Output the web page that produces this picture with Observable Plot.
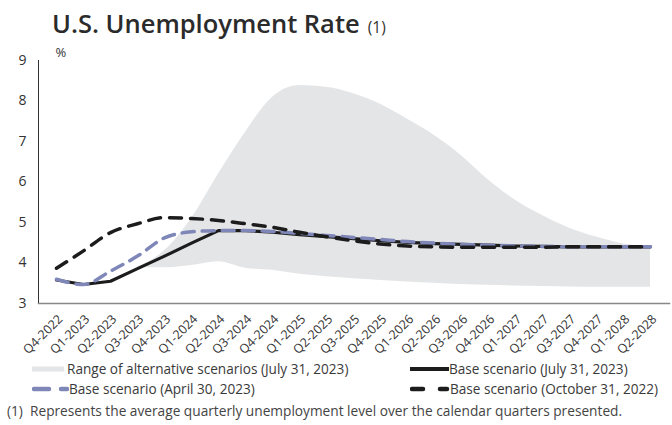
<!DOCTYPE html>
<html><head><meta charset="utf-8">
<script src="https://cdn.jsdelivr.net/npm/d3@7"></script>
<script src="https://cdn.jsdelivr.net/npm/@observablehq/plot@0.6"></script>
<style>
body{margin:0;background:#fff;font-family:"Open Sans",sans-serif;color:#333;}
#wrap{position:relative;width:672px;height:425px;overflow:hidden;background:#fff}
#title{position:absolute;left:52px;top:7px;font-size:25.5px;font-weight:600;color:#2b2b2b;white-space:nowrap;line-height:32px}
#title span{font-size:15.5px;font-weight:400;color:#333;margin-left:8px}
#chart{position:absolute;left:0;top:40px;}
.leg{position:absolute;font-size:13.6px;line-height:16px;white-space:nowrap;color:#3a3a3a;display:flex;align-items:center}
.leg svg{display:block}
#foot{position:absolute;left:7px;top:403px;font-size:13.7px;line-height:16px;color:#444;white-space:pre}
</style></head>
<body><div id="wrap">
<div id="title">U.S. Unemployment Rate<span>(1)</span></div>
<div id="chart"></div>
<div class="leg" style="left:32px;top:361px"><svg width="32" height="10"><rect x="0" y="2.5" width="32" height="5" fill="#e4e5e7"/></svg><span style="margin-left:3px">Range of alternative scenarios (July 31, 2023)</span></div>
<div class="leg" style="left:32px;top:381px"><svg width="37" height="10"><line x1="2" y1="5" x2="17" y2="5" stroke="#7f86b8" stroke-width="4.5" stroke-linecap="round"/><line x1="29" y1="5" x2="35" y2="5" stroke="#7f86b8" stroke-width="4.5" stroke-linecap="round"/></svg><span>Base scenario (April 30, 2023)</span></div>
<div class="leg" style="left:410px;top:361px"><svg width="39" height="10"><line x1="0" y1="5" x2="39" y2="5" stroke="#1c1c1c" stroke-width="4"/></svg><span>Base scenario (July 31, 2023)</span></div>
<div class="leg" style="left:410px;top:381px"><svg width="40" height="10"><line x1="2" y1="5" x2="13" y2="5" stroke="#1c1c1c" stroke-width="4.5" stroke-linecap="round"/><line x1="30" y1="5" x2="37" y2="5" stroke="#1c1c1c" stroke-width="4.5" stroke-linecap="round"/></svg><span>Base scenario (October 31, 2022)</span></div>
<div id="foot">(1)  Represents the average quarterly unemployment level over the calendar quarters presented.</div>
</div>
<script>
const quarters = ["Q4-2022","Q1-2023","Q2-2023","Q3-2023","Q4-2023","Q1-2024","Q2-2024","Q3-2024","Q4-2024","Q1-2025","Q2-2025","Q3-2025","Q4-2025","Q1-2026","Q2-2026","Q3-2026","Q4-2026","Q1-2027","Q2-2027","Q3-2027","Q4-2027","Q1-2028","Q2-2028"];
const baseJul2023 = [3.58,3.47,3.55,3.86,4.17,4.49,4.80,4.80,4.76,4.70,4.65,4.60,4.55,4.51,4.48,4.46,4.44,4.42,4.41,4.40,4.40,4.40,4.40];
const baseApr2023 = [3.60,3.47,3.80,4.17,4.62,4.77,4.80,4.80,4.78,4.73,4.68,4.63,4.58,4.53,4.49,4.46,4.44,4.42,4.41,4.40,4.40,4.40,4.40];
const baseOct2022 = [3.87,4.30,4.75,4.97,5.12,5.10,5.05,4.97,4.88,4.76,4.65,4.55,4.47,4.42,4.40,4.39,4.39,4.39,4.39,4.40,4.40,4.40,4.40];
const rangeLow  = [null,null,null,3.88,3.88,3.94,4.03,3.87,3.82,3.72,3.66,3.61,3.57,3.53,3.50,3.47,3.45,3.43,3.42,3.41,3.40,3.40,3.40];
const rangeHigh = [null,null,null,3.90,4.30,5.10,6.20,7.23,8.09,8.38,8.34,8.18,7.92,7.55,7.15,6.65,6.05,5.55,5.17,4.86,4.64,4.47,4.40];
const yTicks = [3,4,5,6,7,8,9];

const data = quarters.map((q,i)=>({q, lo:rangeLow[i], hi:rangeHigh[i], jul:baseJul2023[i], apr:baseApr2023[i], oct:baseOct2022[i]}));

const chart = Plot.plot({
  width: 672, height: 322,
  marginTop: 20, marginLeft: 38, marginRight: 3, marginBottom: 59,
  style: {fontFamily: "'Open Sans', sans-serif", color: "#333", background: "transparent", overflow: "visible"},
  x: {type: "point", domain: quarters, range: [50, 655], padding: 0, axis: null},
  y: {domain: [3, 9], label: null},
  marks: [
    Plot.areaY(data.filter(d => d.lo != null), {x: "q", y1: "lo", y2: "hi", fill: "#e4e5e7", curve: "monotone-x"}),
    Plot.lineY(data, {x: "q", y: "jul", stroke: "#1c1c1c", strokeWidth: 3.2}),
    Plot.lineY(data, {x: "q", y: "apr", stroke: "#7f86b8", strokeWidth: 3.5, strokeDasharray: "12,8", curve: "monotone-x"}),
    Plot.lineY(data, {x: "q", y: "oct", stroke: "#1c1c1c", strokeWidth: 3.5, strokeDasharray: "12,9", curve: "monotone-x"}),
    Plot.frame({anchor: "left", stroke: "#333", strokeWidth: 1}),
    Plot.frame({anchor: "bottom", stroke: "#888", strokeWidth: 1.5}),
    Plot.axisY({ticks: yTicks, tickFormat: d3.format("d"), tickSize: 0, tickPadding: 12, fontSize: 14}),
    Plot.text(quarters, {x: d => d, frameAnchor: "bottom", rotate: -45, textAnchor: "end", lineAnchor: "middle", dx: 4, dy: 13.5, fontSize: 12.5, fill: "#333"}),
    Plot.text(["%"], {frameAnchor: "top-left", dx: 17, dy: -13, textAnchor: "start", fontSize: 13, fill: "#333"})
  ]
});
document.getElementById("chart").appendChild(chart);
</script>
</body></html>
